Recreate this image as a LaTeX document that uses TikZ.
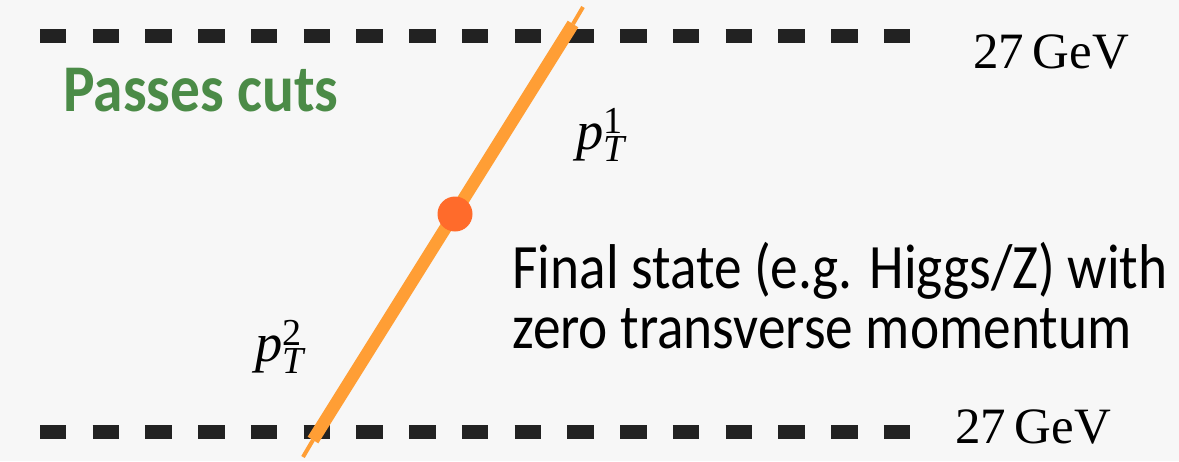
\documentclass[tikz,border=0pt]{standalone}
\usepackage{fontspec}
\setmainfont{Liberation Serif}
\newfontfamily\notefont[FakeStretch=0.875]{Carlito}
\newfontfamily\passfont[FakeStretch=0.89]{Carlito}
\usetikzlibrary{calc}
\definecolor{canvas}{HTML}{F7F7F7}
\definecolor{cutink}{HTML}{222222}
\definecolor{trackorange}{HTML}{FF9E35}
\definecolor{vertexred}{HTML}{FF6B2B}
\definecolor{passgreen}{HTML}{4B8B47}
\newcommand{\ptof}[1]{$\mathit{p}_{\mathit{T}}^{\mathrm{#1}}$}
\tikzset{
  cutline/.style={draw=cutink,line width=0.28cm,
                  dash pattern=on 0.53cm off 0.525cm},
  track/.style={draw=trackorange,line width=0.25cm},
  tracktip/.style={draw=trackorange,line width=0.08cm},
  vertex/.style={circle,fill=vertexred,minimum size=0.7cm,inner sep=0pt},
  cutlabel/.style={font=\fontsize{29}{34}\selectfont,inner sep=0pt,
                   anchor=base west},
  ptlabel/.style={font=\fontsize{31}{36}\selectfont,inner sep=0pt},
  notelabel/.style={font=\notefont\fontsize{36}{40}\selectfont,align=left,
                    inner sep=0pt,anchor=base west},
  passlabel/.style={font=\passfont\bfseries\fontsize{38}{42}\selectfont,
                    text=passgreen,inner sep=0pt,anchor=base west}
}
\begin{document}
\begin{tikzpicture}[x=0.02cm,y=-0.02cm]
  \fill[canvas] (0,0) rectangle (1179,461);
  \useasboundingbox (0,0) rectangle (1179,461);
  % cut thresholds
  \coordinate (topcutL) at (40,36);
  \coordinate (topcutR) at (910,36);
  \coordinate (botcutL) at (40,432);
  \coordinate (botcutR) at (910,432);
  \draw[cutline] (topcutL) -- (topcutR);
  \draw[cutline] (botcutL) -- (botcutR);
  \node[cutlabel] (topgev) at (973,68) {27\,GeV};
  \node[cutlabel] (botgev) at (955,443) {27\,GeV};
  % back-to-back pair
  \coordinate (tipbot) at (303,457);
  \coordinate (trackbot) at (313,440);
  \coordinate (tracktop) at (573,24);
  \coordinate (tiptop) at (583,7);
  \draw[tracktip] (tipbot) -- (trackbot);
  \draw[track] (trackbot) -- (tracktop);
  \draw[tracktip] (tracktop) -- (tiptop);
  \node[vertex] (fs) at (455,214) {};
  \node[ptlabel] (pt1) at (601,135) {\ptof{1}};
  \node[ptlabel] (pt2) at (280,347) {\ptof{2}};
  % labels
  \node[passlabel] (pass) at (63,111) {Passes cuts};
  \node[notelabel] (note1) at (512,288) {Final state (e.g. Higgs/Z) with};
  \node[notelabel] (note2) at (512,348) {zero transverse momentum};
\end{tikzpicture}
\end{document}
